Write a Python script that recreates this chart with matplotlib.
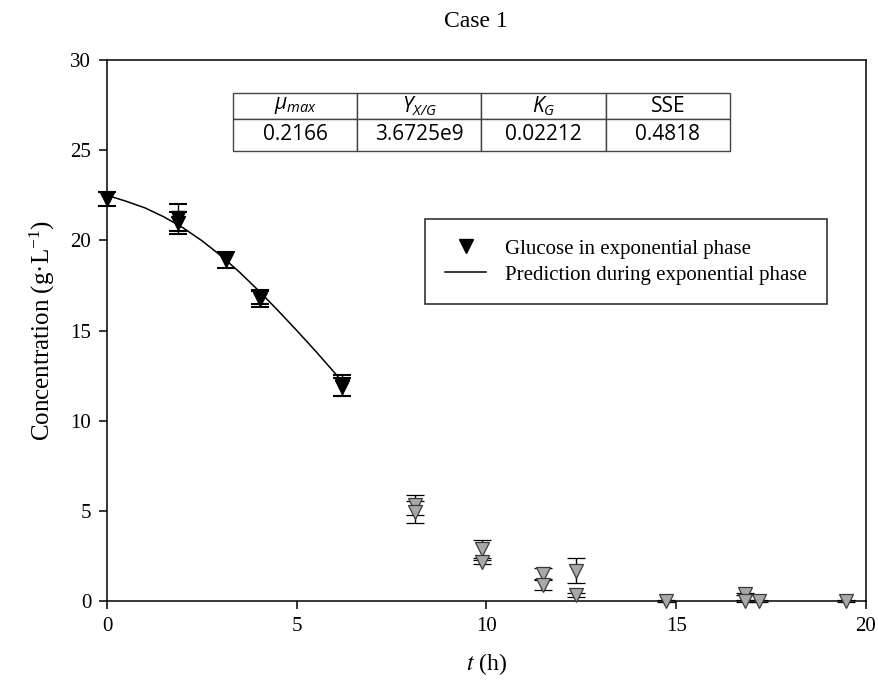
import matplotlib
matplotlib.use("Agg")
import matplotlib.pyplot as plt
from matplotlib.lines import Line2D
import numpy as np

plt.rcParams['font.family'] = ['Liberation Serif', 'DejaVu Serif']
plt.rcParams['mathtext.fontset'] = 'stix'

# ---- data ----
# glucose in exponential phase (black markers)
t_exp = [0.0, 1.87, 1.87, 3.14, 4.03, 4.03, 6.19, 6.19]
g_exp = [22.3, 21.25, 20.95, 18.9, 16.85, 16.75, 11.95, 11.85]
e_exp = [0.4, 0.75, 0.6, 0.45, 0.4, 0.45, 0.58, 0.5]

# glucose after exponential phase (grey markers)
t_post = [8.12, 8.12, 9.88, 9.88, 11.5, 11.5, 12.36, 12.36, 14.73, 16.8, 16.8, 17.19, 19.47]
g_post = [5.32, 4.95, 2.88, 2.15, 1.48, 0.9, 1.68, 0.33, 0.0, 0.39, 0.0, 0.0, 0.02]
e_post = [0.56, 0.6, 0.5, 0.1, 0.33, 0.3, 0.7, 0.1, 0.05, 0.08, 0.05, 0.05, 0.05]

# model prediction during exponential phase
t_pred = [0, 0.5, 1.0, 1.5, 2.0, 2.5, 3.0, 3.5, 4.0, 4.5, 5.0, 5.5, 6.0, 6.2]
s_pred = [22.5, 22.17, 21.8, 21.3, 20.7, 19.98, 19.15, 18.22, 17.2, 16.12, 15.0, 13.85, 12.65, 12.15]

# parameter table
tab_header = [r'$\mathregular{μ_{max}}$', r'$\mathregular{Y_{X/G}}$', r'$\mathregular{K_G}$', 'SSE']
tab_values = ['0.2166', '3.6725e9', '0.02212', '0.4818']

x_ticks = [0, 5, 10, 15, 20]
y_ticks = [0, 5, 10, 15, 20, 25, 30]

W, H = 879, 695
fig = plt.figure(figsize=(W / 100, H / 100), dpi=100)
ax = fig.add_axes([107 / W, 1 - 601 / H, 759 / W, 541 / H])

ax.plot(t_pred, s_pred, color='black', lw=1.1, zorder=3)

ax.errorbar(t_post, g_post, yerr=e_post, fmt='v', ms=10.5, mfc='#a8a8a8', mec='#3a3a3a',
            mew=0.9, ecolor='black', elinewidth=1.0, capsize=6.5, capthick=1.5,
            zorder=5, clip_on=False)
ax.errorbar(t_exp, g_exp, yerr=e_exp, fmt='v', ms=10.5, mfc='black', mec='black',
            ecolor='black', elinewidth=1.0, capsize=6.5, capthick=1.5,
            zorder=6, clip_on=False)

ax.set_xlim(0, 20)
ax.set_ylim(0, 30)
ax.set_xticks(x_ticks)
ax.set_yticks(y_ticks)
ax.tick_params(direction='out', length=5.8, width=1.1, labelsize=15, pad=5.5)
for s in ax.spines.values():
    s.set_linewidth(1.1)

ax.set_xlabel(r'$t$ (h)', fontsize=17, labelpad=11)
ax.set_ylabel(r'Concentration (g·L$\mathregular{^{-1}}$)', fontsize=18, labelpad=10)
fig.text(475.5 / W, 1 - 27 / H, 'Case 1', fontsize=17, ha='center', va='baseline')

# legend
handles = [Line2D([], [], marker='v', color='black', ls='none', ms=10.5),
           Line2D([], [], color='black', lw=1.1)]
leg = ax.legend(handles, ['Glucose in exponential phase', 'Prediction during exponential phase'],
                loc='upper left', bbox_to_anchor=((425 - 107) / 759, (601 - 219.3) / 541),
                borderaxespad=0, fontsize=15, frameon=True, fancybox=False,
                edgecolor='black', handlelength=2.0, handletextpad=0.9,
                labelspacing=0.3, borderpad=0.95)
leg.get_frame().set_linewidth(1.2)

# parameter table
tbl = ax.table(cellText=[tab_header, tab_values], cellLoc='center',
               bbox=[(233 - 107) / 759, (601 - 151) / 541, (730 - 233) / 759, (151 - 93) / 541])
tbl.auto_set_font_size(False)
for (r, c), cell in tbl.get_celld().items():
    cell.set_edgecolor('#444444')
    cell.set_linewidth(1.0)
    cell.set_height(0.026 if r == 0 else 0.032)
    txt = cell.get_text()
    txt.set_fontfamily('Open Sans')
    txt.set_fontsize(15)
    if r == 0 and c < 3:
        txt.set_fontstyle('italic')
tbl.set_zorder(4)

fig.savefig('out.png', dpi=100)
